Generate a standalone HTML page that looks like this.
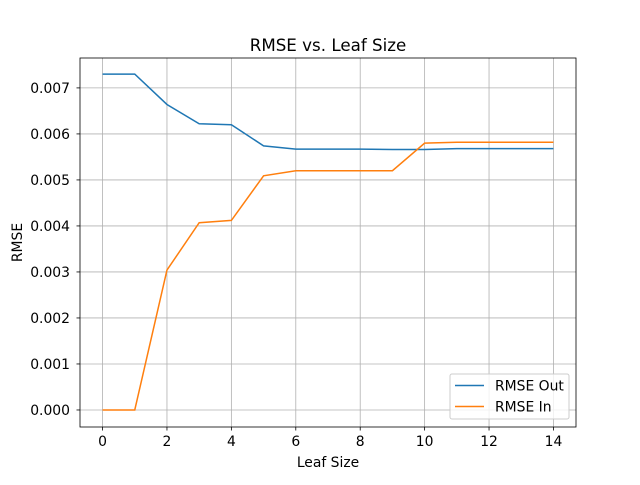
<!DOCTYPE html>
<html><head><meta charset="utf-8"><style>
body{margin:0;background:#fff;}
text{font-family:"DejaVu Sans","Liberation Sans",sans-serif;}
</style></head><body>
<svg id="chart" width="640" height="480" xmlns="http://www.w3.org/2000/svg"></svg>
<script>
const leafSizes=[0,1,2,3,4,5,6,7,8,9,10,11,12,13,14];
const rmseOut=[0.00730,0.00730,0.00664,0.00622,0.00620,0.00574,0.00567,0.00567,0.00567,0.00566,0.00566,0.00568,0.00568,0.00568,0.00568];
const rmseIn=[0,0,0.00304,0.00407,0.00412,0.00509,0.00520,0.00520,0.00520,0.00520,0.00580,0.00582,0.00582,0.00582,0.00582];
const xTicks=[0,2,4,6,8,10,12,14];
const yTicks=[0,0.001,0.002,0.003,0.004,0.005,0.006,0.007];
const yTickLabels=["0.000","0.001","0.002","0.003","0.004","0.005","0.006","0.007"];

const L=80,R=576,T=58,B=427;
const xmin=-0.7,xmax=14.7,ymin=-0.00037,ymax=0.00765;
const sx=v=>L+(v-xmin)/(xmax-xmin)*(R-L);
const sy=v=>B-(v-ymin)/(ymax-ymin)*(B-T);
const svg=document.getElementById('chart');
const NS='http://www.w3.org/2000/svg';
function mk(tag,attrs,parent){const e=document.createElementNS(NS,tag);for(const k in attrs)e.setAttribute(k,attrs[k]);(parent||svg).appendChild(e);return e;}

xTicks.forEach(v=>{
  const g=mk('line',{x1:sx(v),x2:sx(v),y1:T,y2:B,stroke:'#b0b0b0','stroke-width':0.8});
  
  
  mk('line',{x1:sx(v),x2:sx(v),y1:B,y2:B+3.5,stroke:'#000','stroke-width':0.8});
  const t=mk('text',{x:sx(v),y:B+19,'text-anchor':'middle','font-size':13.9});
  t.textContent=v;
  
  
});
yTicks.forEach((v,i)=>{
  const g=mk('line',{x1:L,x2:R,y1:sy(v),y2:sy(v),stroke:'#b0b0b0','stroke-width':0.8});
  
  
  mk('line',{x1:L-3.5,x2:L,y1:sy(v),y2:sy(v),stroke:'#000','stroke-width':0.8});
  const t=mk('text',{x:L-10,y:sy(v)+5,'text-anchor':'end','font-size':13.9});
  t.textContent=yTickLabels[i];
  
  
});
function series(vals,color,name){
  const p=mk('polyline',{points:vals.map((v,i)=>sx(leafSizes[i])+','+sy(v)).join(' '),fill:'none',stroke:color,'stroke-width':1.5});
  
  
}
series(rmseOut,'#1f77b4','rmse-out-line');
series(rmseIn,'#ff7f0e','rmse-in-line');
const fr=mk('rect',{x:L,y:T,width:R-L,height:B-T,fill:'none',stroke:'#000','stroke-width':0.8});


const title=mk('text',{x:(L+R)/2,y:T-7,'text-anchor':'middle','font-size':16.7});
title.textContent='RMSE vs. Leaf Size';


const xl=mk('text',{x:(L+R)/2,y:467,'text-anchor':'middle','font-size':13.9});
xl.textContent='Leaf Size';


const yl=mk('text',{x:22,y:(T+B)/2,'text-anchor':'middle','font-size':13.9,transform:'rotate(-90 22 '+(T+B)/2+')'});
yl.textContent='RMSE';


const lg=mk('g',{});


mk('rect',{x:450,y:374,width:119,height:45,rx:2,fill:'#fff','fill-opacity':0.8,stroke:'#ccc','stroke-width':1},lg);
[['RMSE Out','#1f77b4',385.5],['RMSE In','#ff7f0e',406.5]].forEach(([n,c,y])=>{
  const e=mk('g',{},lg);
  
  
  mk('line',{x1:455,x2:484,y1:y,y2:y,stroke:c,'stroke-width':1.5},e);
  const t=mk('text',{x:495,y:y+5,'font-size':13.9},e);t.textContent=n;
});
</script>
</body></html>
